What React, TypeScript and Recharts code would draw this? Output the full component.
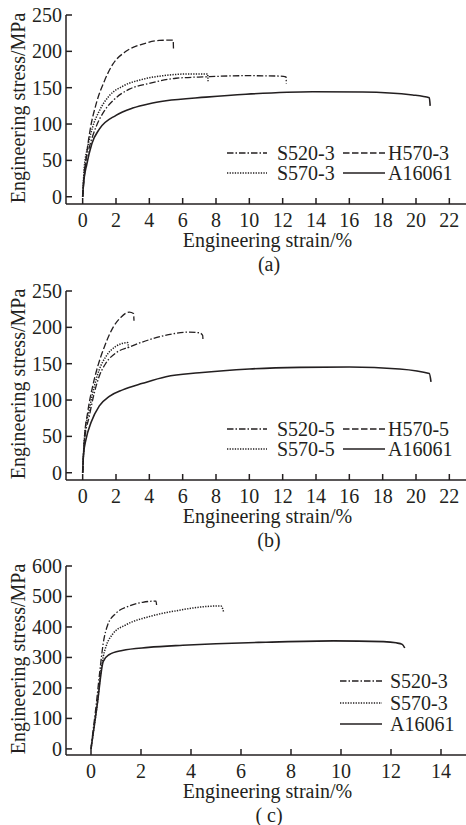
import React from 'react';
import { LineChart, Line, XAxis, YAxis, Legend } from 'recharts';

const INK = '#231f20';
const FONT = '"Liberation Serif", "Times New Roman", serif';

// ---- panel (a) ----
const strainTicksAB = [0, 2, 4, 6, 8, 10, 12, 14, 16, 18, 20, 22];
const stressTicksAB = [0, 50, 100, 150, 200, 250];

const aS520x = [0, 0.1, 0.4, 0.8, 1.3, 1.9, 2.8, 4.0, 5.6, 7.4, 9.8, 11.8, 12.2, 12.22];
const aS520y = [0, 36, 68, 96, 118, 134, 148, 156, 163, 165, 166.5, 166, 165, 155];
const aH570x = [0, 0.1, 0.24, 0.44, 0.8, 1.3, 1.8, 2.6, 3.6, 4.6, 5.43, 5.45];
const aH570y = [0, 27, 59, 91, 127, 159, 182, 200, 210, 215, 215.5, 202];
const aS570x = [0, 0.1, 0.3, 0.6, 1.0, 1.6, 2.4, 3.6, 5.0, 6.5, 7.5, 7.52];
const aS570y = [0, 41, 68, 96, 118, 139, 152, 161.5, 167, 169, 169, 159];
const aAlx = [0, 0.05, 0.25, 0.55, 1.0, 2.0, 3.0, 4.0, 5.0, 7.4, 9.8, 13.8, 16.8, 19.8, 20.8, 20.85];
const aAly = [0, 18, 45, 73, 93, 112, 122, 128, 132, 137, 141, 144.5, 144, 140, 136, 125];

// ---- panel (b) ----
const bS520x = [0, 0.1, 0.4, 0.7, 1.0, 1.4, 2.0, 2.8, 4.0, 5.4, 6.4, 7.0, 7.2, 7.22];
const bS520y = [0, 42, 78, 110, 133, 151, 165, 173, 183, 191, 193.5, 192.5, 189, 182];
const bH570x = [0, 0.1, 0.3, 0.6, 0.9, 1.3, 1.8, 2.3, 2.8, 3.05, 3.08];
const bH570y = [0, 46, 83, 119, 146, 173, 199, 214, 221, 219, 209];
const bS570x = [0, 0.1, 0.4, 0.7, 1.0, 1.4, 2.0, 2.7, 2.75];
const bS570y = [0, 46, 87, 119, 142, 160, 174, 179, 171];
const bAlx = [0, 0.05, 0.2, 0.5, 1.0, 1.6, 2.4, 3.6, 5.0, 7.0, 10.0, 13.0, 16.0, 19.0, 20.8, 20.9];
const bAly = [0, 25, 46, 69, 92, 105, 114, 123, 132, 137.5, 142.8, 145, 145.5, 142.8, 136.4, 125];

// ---- panel (c) ----
const strainTicksC = [0, 2, 4, 6, 8, 10, 12, 14];
const stressTicksC = [0, 100, 200, 300, 400, 500, 600];

const cS520x = [0, 0.04, 0.2, 0.36, 0.49, 0.67, 1.0, 1.53, 2.07, 2.6, 2.63];
const cS520y = [0, 30, 139, 260, 347, 407, 445, 469, 481, 485, 466];
const cS570x = [0, 0.07, 0.27, 0.4, 0.49, 0.6, 0.87, 1.4, 2.33, 3.4, 4.6, 5.2, 5.3];
const cS570y = [0, 41, 161, 260, 303, 336, 377, 407, 434, 453, 467, 469, 451];
const cAlx = [0, 0.25, 0.49, 0.72, 1.25, 2.3, 3.67, 5.0, 7.0, 9.7, 11.7, 12.2, 12.45, 12.55];
const cAly = [0, 146, 287, 309, 323, 333, 340, 345, 350, 354.5, 352, 348, 343, 331];

const zip = (xs: number[], ys: number[]) => xs.map((x, i) => ({ x, y: ys[i] }));

const DASH_DOT = '6.5 2 1.5 2';
const DASHED = '6.5 2.5';
const DOTTED = '1.3 1.3';

type Series = { name: string; data: { x: number; y: number }[]; dash?: string; width: number };

const seriesA: Series[] = [
  { name: 'S520-3', data: zip(aS520x, aS520y), dash: DASH_DOT, width: 1.3 },
  { name: 'H570-3', data: zip(aH570x, aH570y), dash: DASHED, width: 1.3 },
  { name: 'S570-3', data: zip(aS570x, aS570y), dash: DOTTED, width: 1.5 },
  { name: 'A16061', data: zip(aAlx, aAly), width: 1.6 },
];
const seriesB: Series[] = [
  { name: 'S520-5', data: zip(bS520x, bS520y), dash: DASH_DOT, width: 1.3 },
  { name: 'H570-5', data: zip(bH570x, bH570y), dash: DASHED, width: 1.3 },
  { name: 'S570-5', data: zip(bS570x, bS570y), dash: DOTTED, width: 1.5 },
  { name: 'A16061', data: zip(bAlx, bAly), width: 1.6 },
];
const seriesC: Series[] = [
  { name: 'S520-3', data: zip(cS520x, cS520y), dash: DASH_DOT, width: 1.3 },
  { name: 'S570-3', data: zip(cS570x, cS570y), dash: DOTTED, width: 1.5 },
  { name: 'A16061', data: zip(cAlx, cAly), width: 1.6 },
];

const XTick = (props: any) => {
  const { x, y, payload } = props;
  return (
    <g>
      <line x1={x} x2={x} y1={y} y2={y - 6} stroke={INK} strokeWidth={1.5} />
      <text x={x} y={y + 23} textAnchor="middle" fontFamily={FONT} fontSize={20} fill={INK}>
        {payload.value}
      </text>
    </g>
  );
};

const YTick = (props: any) => {
  const { x, y, payload } = props;
  return (
    <g>
      <line x1={x} x2={x + 6} y1={y} y2={y} stroke={INK} strokeWidth={1.5} />
      <text x={x - 4} y={y + 7} textAnchor="end" fontFamily={FONT} fontSize={20} fill={INK}>
        {payload.value}
      </text>
    </g>
  );
};

type LegendOpts = { series: Series[]; cols: number[]; sampleW: number[]; gap: number[]; rowH: number };

const LegendBox = ({ payload, opts }: { payload?: any[]; opts: LegendOpts }) => {
  const n = opts.cols.length;
  const names = opts.series.map((s) => s.name);
  // keep the series order, not the legend's alphabetical one
  const items = [...(payload || [])].sort((a, b) => names.indexOf(a.value) - names.indexOf(b.value));
  return (
    <div style={{ position: 'relative' }}>
      {items.map((entry: any, i: number) => {
        const s = opts.series.find((d) => d.name === entry.value);
        const col = i % n;
        const row = Math.floor(i / n);
        return (
          <div
            key={entry.value}
            style={{
              position: 'absolute',
              left: opts.cols[col],
              top: row * opts.rowH,
              display: 'flex',
              alignItems: 'center',
              height: 20,
              whiteSpace: 'nowrap',
            }}
          >
            <svg width={opts.sampleW[col]} height={20} style={{ display: 'block' }}>
              <line
                x1={0}
                x2={opts.sampleW[col]}
                y1={10}
                y2={10}
                stroke={INK}
                strokeWidth={s?.width ?? 1.3}
                strokeDasharray={s?.dash}
              />
            </svg>
            <span
              style={{
                marginLeft: opts.gap[col],
                fontFamily: FONT,
                fontSize: 20,
                lineHeight: '20px',
                color: INK,
              }}
            >
              {entry.value}
            </span>
          </div>
        );
      })}
    </div>
  );
};

type PanelProps = {
  top: number;
  series: Series[];
  xDomain: number[];
  xTicks: number[];
  yDomain: number[];
  yTicks: number[];
  legend: LegendOpts & { left: number; top: number };
  caption: string;
  yLabelCenter: number;
};

const textStyle: React.CSSProperties = {
  position: 'absolute',
  fontFamily: FONT,
  fontSize: 20,
  lineHeight: '20px',
  color: INK,
  whiteSpace: 'nowrap',
};

const Panel = ({ top, series, xDomain, xTicks, yDomain, yTicks, legend, caption, yLabelCenter }: PanelProps) => (
  <div style={{ position: 'absolute', left: 0, top, width: 466, height: 274 }}>
    <LineChart width={466} height={230} margin={{ top: 15, right: 0, left: 0, bottom: 0 }}>
      <XAxis
        dataKey="x"
        type="number"
        domain={xDomain}
        ticks={xTicks}
        interval={0}
        height={26}
        tickSize={0}
        tickMargin={0}
        tickLine={false}
        tick={<XTick />}
        axisLine={{ stroke: INK, strokeWidth: 1.5 }}
      />
      <YAxis
        dataKey="y"
        type="number"
        domain={yDomain}
        ticks={yTicks}
        interval={0}
        width={66}
        tickSize={0}
        tickMargin={0}
        tickLine={false}
        tick={<YTick />}
        axisLine={{ stroke: INK, strokeWidth: 1.5 }}
      />
      <Legend
        layout="vertical"
        align="center"
        verticalAlign="middle"
        wrapperStyle={{ left: legend.left, top: legend.top, width: 240, height: 70 }}
        content={(p: any) => <LegendBox payload={p.payload} opts={legend} />}
      />
      {series.map((s) => (
        <Line
          key={s.name}
          name={s.name}
          data={s.data}
          dataKey="y"
          type="monotone"
          stroke={INK}
          strokeWidth={s.width}
          strokeDasharray={s.dash}
          dot={false}
          activeDot={false}
          isAnimationActive={false}
        />
      ))}
    </LineChart>
    <div style={{ ...textStyle, left: 18, top: yLabelCenter, transform: 'translate(-50%, -50%) rotate(-90deg)' }}>
      Engineering stress/MPa
    </div>
    <div style={{ ...textStyle, left: 267.5, top: 240, transform: 'translate(-50%, -50%)' }}>
      Engineering strain/%
    </div>
    <div style={{ ...textStyle, left: 269, top: 264, lineHeight: '18px', transform: 'translate(-50%, -50%)' }}>
      {caption}
    </div>
  </div>
);

const legendTwoCol = { cols: [0, 116], sampleW: [40, 42], gap: [10, 3], rowH: 20.5, left: 227, top: 142.5 };
const legendOneCol = { cols: [0], sampleW: [42], gap: [8], rowH: 21.7, left: 340, top: 120 };

export default function App() {
  return (
    <div style={{ position: 'absolute', left: 0, top: 0, width: 466, height: 825, background: '#fff', overflow: 'hidden' }}>
      <Panel
        top={0}
        series={seriesA}
        xDomain={[-1, 23]}
        xTicks={strainTicksAB}
        yDomain={[-10, 250]}
        yTicks={stressTicksAB}
        legend={{ ...legendTwoCol, series: seriesA }}
        caption="(a)"
        yLabelCenter={108}
      />
      <Panel
        top={276}
        series={seriesB}
        xDomain={[-1, 23]}
        xTicks={strainTicksAB}
        yDomain={[-10, 250]}
        yTicks={stressTicksAB}
        legend={{ ...legendTwoCol, series: seriesB }}
        caption="(b)"
        yLabelCenter={108}
      />
      <Panel
        top={551}
        series={seriesC}
        xDomain={[-1, 15]}
        xTicks={strainTicksC}
        yDomain={[-20, 600]}
        yTicks={stressTicksC}
        legend={{ ...legendOneCol, series: seriesC }}
        caption="( c)"
        yLabelCenter={108}
      />
    </div>
  );
}
